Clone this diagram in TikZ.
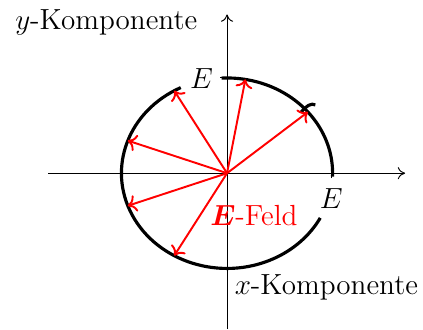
\documentclass[tikz,border=0pt]{standalone}
\usepackage{amsmath,amssymb,bm}
\usepackage{tikz}
\usetikzlibrary{arrows.meta}
\usepackage{xcolor}
\definecolor{feldred}{RGB}{255,0,0}

\begin{document}
\begin{tikzpicture}[
  every node/.style={font=\fontsize{12}{14}\selectfont},
  axis/.style={thin, -{To[length=3pt,width=5pt]}},
  bahn/.style={line width=1.3pt},
  field/.style={feldred, line width=0.8pt, -{To[length=3.5pt,width=7pt]}},
  tick/.style={thin}
]
\useasboundingbox (-3.29,-2.26) rectangle (2.84,2.51);

% Achsen
\coordinate (o) at (0,0);
\coordinate (xl) at (-2.59,0);
\coordinate (xr) at (2.58,0);
\coordinate (yb) at (0,-2.26);
\coordinate (yt) at (0,2.30);
\draw[axis] (xl) -- (xr);
\draw[axis] (yb) -- (yt);

% Amplituden
\draw[tick] (-0.10,1.38) -- (0.12,1.38);
\draw[tick] (1.52,-0.07) -- (1.52,0.07);
\node (ey) at (-0.37,1.37) {$E$};
\node (ex) at (1.51,-0.37) {$E$};

% Bahn der Feldspitze
\draw[bahn] (-2:1.53 and 1.38) arc[start angle=-2, end angle=93, x radius=1.53, y radius=1.38];
\draw[bahn] (116:1.53 and 1.38) arc[start angle=116, end angle=332, x radius=1.53, y radius=1.38];
\draw[bahn] (1.07,0.88) .. controls (1.15,0.98) and (1.22,1.02) .. (1.28,0.99);

% Feldvektoren
\foreach \a in {40,80,...,240}
  \draw[field] (o) -- (\a:1.53 and 1.38);

\node[text=feldred] (feld) at (0.39,-0.62) {$\bm{E}$-Feld};
\node (ykomp) at (-1.75,2.19) {$y$-Komponente};
\node (xkomp) at (1.44,-1.65) {$x$-Komponente};

\end{tikzpicture}
\end{document}
